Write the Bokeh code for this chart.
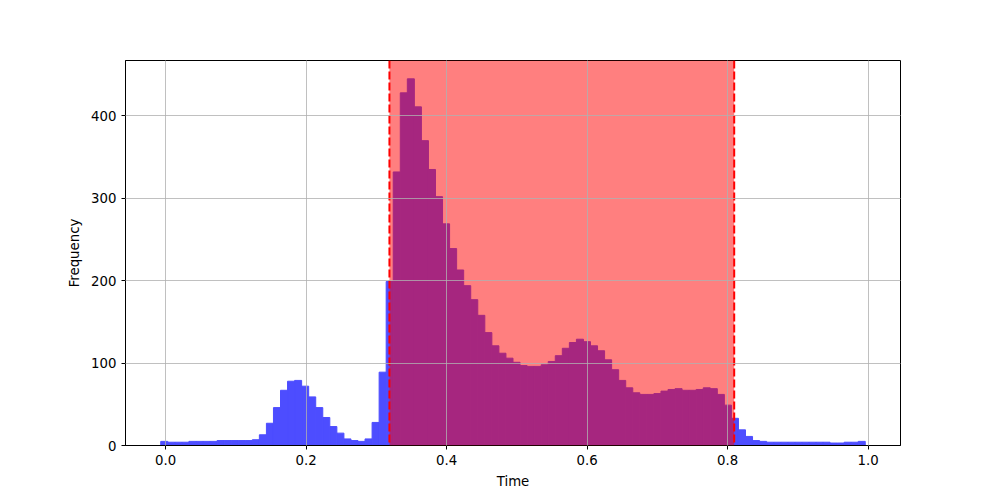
import numpy as np
from bokeh.plotting import figure
from bokeh.models import BoxAnnotation, Span, FixedTicker, Range1d, ColumnDataSource
from bokeh.embed import file_html
from bokeh.resources import INLINE

# Histogram data (100 bins)
data_min = -0.007
data_max = 0.996
n_bins = 100
counts = [5, 4, 4, 4, 5, 5, 5, 5, 6, 6,
          6, 6, 6, 7, 13, 27, 46, 67, 78, 79,
          72, 59, 46, 34, 23, 15, 8, 6, 5, 8,
          28, 89, 199, 332, 428, 445, 411, 370, 335, 302,
          269, 239, 213, 194, 177, 158, 137, 121, 112, 106,
          101, 97, 96, 96, 98, 102, 109, 118, 125, 129,
          126, 121, 115, 104, 92, 79, 70, 64, 62, 62,
          63, 66, 68, 69, 67, 67, 68, 70, 69, 62,
          49, 33, 19, 11, 6, 5, 4, 4, 4, 4,
          4, 4, 4, 4, 4, 3, 3, 4, 4, 5]

# Highlighted interval
span_start = 0.3186
span_end = 0.8094

x_ticks = [0.0, 0.2, 0.4, 0.6, 0.8, 1.0]
y_ticks = [0, 100, 200, 300, 400]

edges = np.linspace(data_min, data_max, n_bins + 1)
rng = data_max - data_min
ymax = max(counts) * 1.05

src = ColumnDataSource(dict(left=edges[:-1], right=edges[1:], top=counts, bottom=[0] * len(counts)))

p = figure(width=984, height=492, output_backend="svg", toolbar_location=None,
           x_range=Range1d(data_min - 0.05 * rng, data_max + 0.05 * rng),
           y_range=Range1d(0, ymax),
           min_border_left=125, min_border_right=84, min_border_top=60, min_border_bottom=47)

# blue at alpha 0.7 over white, drawn opaque to avoid seams between bars
bar_color = "#4d4dff"
p.quad(left="left", right="right", top="top", bottom="bottom", source=src,
       fill_color=bar_color, fill_alpha=1.0, line_color=bar_color, line_width=1.0,
       line_join="miter")

box = BoxAnnotation(left=span_start, right=span_end, fill_color="red", fill_alpha=0.5,
                    line_color=None)
p.add_layout(box)
for loc in (span_start, span_end):
    p.add_layout(Span(location=loc, dimension="height", line_color="red",
                      line_width=2, line_dash="8 3"))

font = "DejaVu Sans"
for ax in (p.xaxis[0], p.yaxis[0]):
    ax.axis_label_text_font = font
    ax.axis_label_text_font_size = "13.3px"
    ax.axis_label_text_font_style = "normal"
    ax.major_label_text_font = font
    ax.major_label_text_font_size = "13.3px"
    ax.major_tick_in = 0
    ax.major_tick_out = 4
    ax.minor_tick_in = 0
    ax.minor_tick_out = 0
    ax.axis_line_color = "black"
    ax.major_tick_line_color = "black"
    ax.major_label_text_color = "black"
    ax.axis_label_text_color = "black"
    ax.axis_label_standoff = 6

p.xaxis.axis_label = "Time"
p.yaxis.axis_label = "Frequency"
p.xaxis.ticker = FixedTicker(ticks=x_ticks)
p.yaxis.ticker = FixedTicker(ticks=y_ticks)
p.xaxis.major_label_overrides = {t: f"{t:.1f}" for t in x_ticks}

for g in (p.xgrid[0], p.ygrid[0]):
    g.grid_line_color = "#b0b0b0"
    g.grid_line_width = 0.8
    g.level = "overlay"
p.xgrid.ticker = FixedTicker(ticks=x_ticks)
p.ygrid.ticker = FixedTicker(ticks=y_ticks)

p.outline_line_color = "black"
p.outline_line_width = 1
p.background_fill_color = "white"
p.border_fill_color = "white"

open("out.html", "w").write(file_html(p, INLINE))
